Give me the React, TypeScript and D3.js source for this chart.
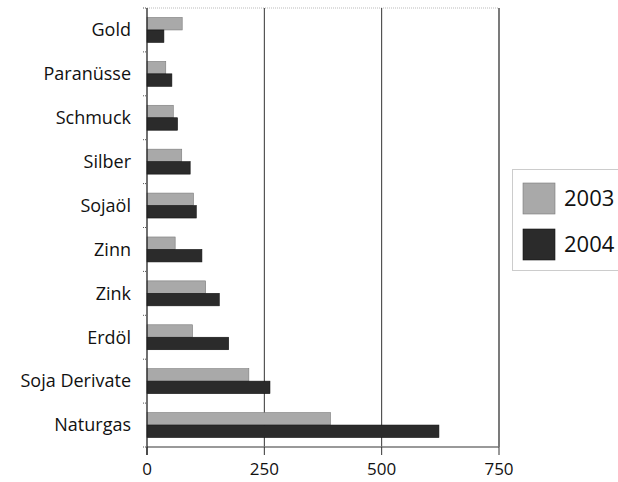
import React from "react";
import * as d3 from "d3";

const categories = ["Gold", "Paranüsse", "Schmuck", "Silber", "Sojaöl", "Zinn", "Zink", "Erdöl", "Soja Derivate", "Naturgas"];
const values2003 = [75, 40, 56, 74, 99, 60, 125, 97, 217, 391];
const values2004 = [36, 53, 65, 92, 105, 117, 154, 174, 262, 622];
const seriesNames = ["2003", "2004"];
const xTicks = [0, 250, 500, 750];

const W = 618, H = 482;
const left = 147, right = 499, top = 8, bottom = 447;
const fills = ["#a9a9a9", "#2b2b2b"];
const strokes = ["#7a7a7a", "#111"];
const font = "'Open Sans', 'DejaVu Sans', sans-serif";

export default function App() {
  const x = d3.scaleLinear().domain([0, 750]).range([left, right]);
  const y = d3.scaleBand<string>().domain(categories).range([top, bottom]).padding(0);
  const inner = d3.scaleBand<string>().domain(seriesNames).range([0, y.bandwidth()]).paddingInner(0).paddingOuter(0.76);
  const series = [values2003, values2004];
  const boundaries = categories.map((c) => y(c) as number).concat([bottom]);

  return (
    <svg width={W} height={H} style={{ position: "absolute", left: 0, top: 0, background: "#fff" }}>
      <line x1={left} x2={right} y1={top} y2={top} stroke="#bbb" strokeDasharray="1,1" />
      {xTicks.slice(1).map((t) => (
        <line key={t} x1={x(t)} x2={x(t)} y1={top} y2={bottom} stroke="#333" strokeWidth={t === 750 ? 1.3 : 1} />
      ))}
      {categories.map((c, i) =>
        series.map((s, k) => (
          <rect
            key={c + k}
            x={x(0)}
            y={(y(c) as number) + (inner(seriesNames[k]) as number)}
            width={x(s[i]) - x(0)}
            height={inner.bandwidth()}
            fill={fills[k]}
            stroke={strokes[k]}
            strokeWidth={0.6}
          />
        ))
      )}
      <line x1={left} x2={right} y1={bottom} y2={bottom} stroke="#777" strokeWidth={1.5} />
      {xTicks.map((t) => (
        <g key={t}>
          <line x1={x(t)} x2={x(t)} y1={bottom} y2={bottom + 8} stroke="#333" strokeWidth={1} />
          <text x={x(t)} y={475} textAnchor="middle" fontFamily={font} fontSize={17} fill="#111">
            {t}
          </text>
        </g>
      ))}
      <line x1={left} x2={left} y1={top} y2={bottom + 8} stroke="#222" strokeWidth={1.3} />
      {boundaries.map((b, i) => (
        <line key={i} x1={left - 4} x2={left} y1={b} y2={b} stroke="#555" strokeDasharray="1,1" />
      ))}
      {categories.map((c) => (
        <text key={c} x={131} y={(y(c) as number) + y.bandwidth() / 2} dy="0.35em" textAnchor="end" fontFamily={font} fontSize={18} fontWeight={500} fill="#111">
          {c}
        </text>
      ))}
      <rect x={512.5} y={169.5} width={120} height={101} fill="none" stroke="#999" strokeDasharray="1,1" />
      {seriesNames.map((n, k) => (
        <g key={n}>
          <rect x={523} y={183 + k * 46} width={32} height={31} fill={fills[k]} stroke={strokes[k]} strokeWidth={0.6} />
          <text x={564} y={198.5 + k * 46} dy="0.35em" fontFamily={font} fontSize={22} fill="#111">
            {n}
          </text>
        </g>
      ))}
    </svg>
  );
}
